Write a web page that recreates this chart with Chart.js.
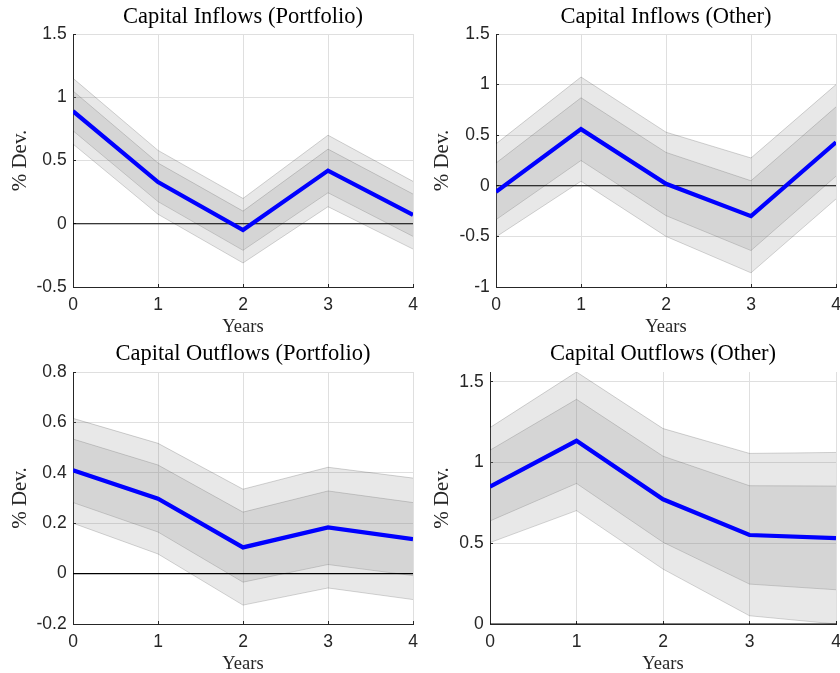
<!DOCTYPE html>
<html>
<head>
<meta charset="utf-8">
<script src="https://cdn.jsdelivr.net/npm/chart.js@4/dist/chart.umd.min.js"></script>
<style>
  html, body { margin: 0; padding: 0; background: #fff; }
  #fig { position: relative; width: 840px; height: 673px; overflow: hidden; background: #fff; }
  #fig canvas { position: absolute; }
</style>
</head>
<body>
<div id="fig">
  <canvas id="c1" width="420" height="336" style="left:0;top:0"></canvas>
  <canvas id="c2" width="420" height="336" style="left:420px;top:0"></canvas>
  <canvas id="c3" width="420" height="335" style="left:0;top:338px"></canvas>
  <canvas id="c4" width="420" height="335" style="left:420px;top:338px"></canvas>
</div>
<script>
// Horizon (years after the shock)
const years = [0, 1, 2, 3, 4];

// Capital Inflows (Portfolio)
const inPortIrf  = [0.89, 0.33, -0.05, 0.42, 0.07];
const inPortUp90 = [1.15, 0.58, 0.20, 0.70, 0.335];
const inPortUp68 = [1.05, 0.48, 0.10, 0.59, 0.235];
const inPortLo68 = [0.735, 0.175, -0.21, 0.245, -0.10];
const inPortLo90 = [0.63, 0.075, -0.31, 0.135, -0.20];
const inPortTicks = [-0.5, 0, 0.5, 1, 1.5];

// Capital Inflows (Other)
const inOthIrf  = [-0.06, 0.56, 0.02, -0.30, 0.43];
const inOthUp90 = [0.415, 1.075, 0.53, 0.275, 1.00];
const inOthUp68 = [0.225, 0.87, 0.33, 0.05, 0.78];
const inOthLo68 = [-0.335, 0.25, -0.295, -0.64, 0.095];
const inOthLo90 = [-0.505, 0.045, -0.50, -0.86, -0.13];
const inOthTicks = [-1, -0.5, 0, 0.5, 1, 1.5];

// Capital Outflows (Portfolio)
const outPortIrf  = [0.41, 0.297, 0.104, 0.183, 0.137];
const outPortUp90 = [0.616, 0.517, 0.335, 0.422, 0.379];
const outPortUp68 = [0.534, 0.431, 0.244, 0.328, 0.282];
const outPortLo68 = [0.282, 0.165, -0.034, 0.036, -0.008];
const outPortLo90 = [0.20, 0.078, -0.125, -0.057, -0.103];
const outPortTicks = [-0.2, 0, 0.2, 0.4, 0.6, 0.8];

// Capital Outflows (Other)
const outOthIrf  = [0.85, 1.134, 0.772, 0.551, 0.531];
const outOthUp90 = [1.216, 1.56, 1.21, 1.056, 1.062];
const outOthUp68 = [1.076, 1.391, 1.039, 0.856, 0.854];
const outOthLo68 = [0.638, 0.87, 0.506, 0.247, 0.212];
const outOthLo90 = [0.504, 0.702, 0.34, 0.051, 0.0];
const outOthTicks = [0, 0.5, 1, 1.5];

const SERIF = '"Liberation Serif", "Times New Roman", serif';
const SANS = '"Liberation Sans", Arial, Helvetica, sans-serif';
const AXIS = '#262626';
const GRID = '#dfdfdf';
const BAND = 'rgba(128,128,128,0.18)';
const EDGE = 'rgba(0,0,0,0.17)';

const panels = [
  { id: 'c1', title: 'Capital Inflows (Portfolio)', irf: inPortIrf, up90: inPortUp90, up68: inPortUp68, lo68: inPortLo68, lo90: inPortLo90,
    yMin: -0.5, yMax: 1.5, yTicks: inPortTicks, left: 73, right: 7, bottom: 287, h: 336, tTop: 4, tBot: 3, yPad: 7.5 },
  { id: 'c2', title: 'Capital Inflows (Other)', irf: inOthIrf, up90: inOthUp90, up68: inOthUp68, lo68: inOthLo68, lo90: inOthLo90,
    yMin: -1, yMax: 1.5, yTicks: inOthTicks, left: 76, right: 4, bottom: 287, h: 336, tTop: 4, tBot: 3, yPad: 10 },
  { id: 'c3', title: 'Capital Outflows (Portfolio)', irf: outPortIrf, up90: outPortUp90, up68: outPortUp68, lo68: outPortLo68, lo90: outPortLo90,
    yMin: -0.2, yMax: 0.8, yTicks: outPortTicks, left: 73, right: 7, bottom: 286, h: 335, tTop: 3, tBot: 4, yPad: 7.5 },
  { id: 'c4', title: 'Capital Outflows (Other)', irf: outOthIrf, up90: outOthUp90, up68: outOthUp68, lo68: outOthLo68, lo90: outOthLo90,
    yMin: 0, yMax: 1.56, yTicks: outOthTicks, left: 70, right: 4, bottom: 286, h: 335, tTop: 3, tBot: 4, yPad: 10 }
];

const pts = arr => arr.map((v, i) => ({ x: years[i], y: v }));
const fmt = v => String(+Number(v).toFixed(2));

panels.forEach(P => {
  const line = (data, color, width, extra) => Object.assign({
    data: pts(data), borderColor: color, borderWidth: width, pointRadius: 0,
    tension: 0, fill: false, clip: 0
  }, extra || {});

  new Chart(document.getElementById(P.id), {
    type: 'line',
    data: {
      datasets: [
        line(P.irf, '#0000ff', 4.2, { borderJoinStyle: 'miter', borderCapStyle: 'butt' }),
        line(years.map(() => 0), '#000000', 1.1),
        line(P.up90, EDGE, 1, { fill: 3, backgroundColor: BAND }),
        line(P.lo90, EDGE, 1),
        line(P.up68, EDGE, 1, { fill: 5, backgroundColor: BAND }),
        line(P.lo68, EDGE, 1)
      ]
    },
    options: {
      responsive: false,
      animation: false,
      devicePixelRatio: 1,
      events: [],
      layout: { padding: { left: 0, right: P.right, top: 0, bottom: 0 }, autoPadding: false },
      plugins: {
        legend: { display: false },
        tooltip: { enabled: false },
        title: {
          display: true, text: P.title, fullSize: false, color: '#000',
          font: { family: SERIF, size: 22.5, weight: 'normal', lineHeight: 1.2 },
          padding: { top: P.tTop, bottom: P.tBot }
        }
      },
      scales: {
        x: {
          type: 'linear', min: 0, max: 4,
          afterBuildTicks: s => { s.ticks = years.map(v => ({ value: v })); },
          afterFit: s => { s.height = P.h - P.bottom; s.paddingLeft = 0; s.paddingRight = 0; },
          grid: { color: GRID, lineWidth: 1, tickColor: AXIS, tickLength: -3 },
          border: { color: AXIS, width: 1 },
          ticks: { padding: 10.7, color: AXIS, maxRotation: 0, autoSkip: false,
                   font: { family: SANS, size: 17.5 }, callback: v => fmt(v) },
          title: { display: true, text: 'Years', color: AXIS,
                   font: { family: SERIF, size: 18.5, lineHeight: 1 }, padding: { top: 0, bottom: 0 } }
        },
        y: {
          type: 'linear', min: P.yMin, max: P.yMax,
          afterBuildTicks: s => { s.ticks = P.yTicks.map(v => ({ value: v })); },
          afterFit: s => { s.width = P.left; s.paddingTop = 0; s.paddingBottom = 0; },
          grid: { color: GRID, lineWidth: 1, tickColor: AXIS, tickLength: -3 },
          border: { color: AXIS, width: 1 },
          ticks: { padding: 9.3, color: AXIS, font: { family: SANS, size: 17.5 }, callback: v => fmt(v) },
          title: { display: true, text: '% Dev.', color: AXIS,
                   font: { family: SERIF, size: 21, lineHeight: 1.2 }, padding: { top: P.yPad, bottom: 0 } }
        }
      }
    }
  });
});
</script>
</body>
</html>
